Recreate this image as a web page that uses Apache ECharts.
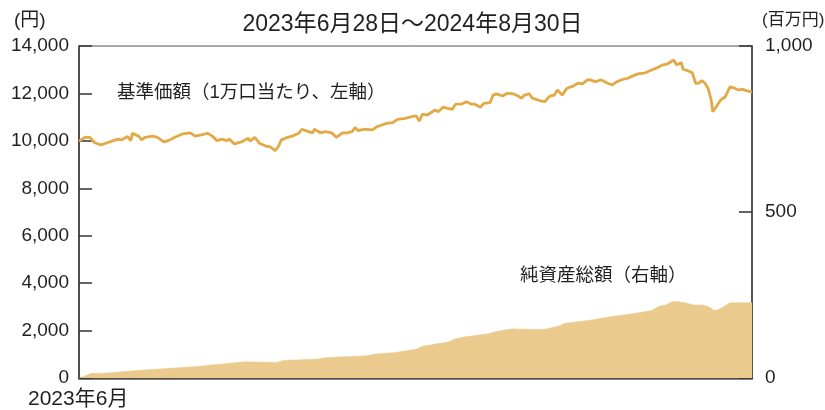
<!DOCTYPE html>
<html><head><meta charset="utf-8">
<script src="https://cdn.jsdelivr.net/npm/echarts@6/dist/echarts.min.js"></script>
<style>html,body{margin:0;padding:0;background:#fff}#c{width:825px;height:410px}</style>
</head><body><div id="c"></div>
<script>
const titleText = '2023年6月28日～2024年8月30日';
const leftUnit = '(円)';
const rightUnit = '(百万円)';
const xStartLabel = '2023年6月';
const navLabel = '基準価額（1万口当たり、左軸）';
const aumLabel = '純資産総額（右軸）';

const navDates = ['2023-06-28','2023-07-02','2023-07-05','2023-07-08','2023-07-12','2023-07-16','2023-07-20','2023-07-23','2023-07-25','2023-07-29','2023-07-31','2023-08-01','2023-08-05','2023-08-07','2023-08-09','2023-08-14','2023-08-17','2023-08-21','2023-08-24','2023-08-28','2023-09-02','2023-09-07','2023-09-10','2023-09-14','2023-09-18','2023-09-21','2023-09-24','2023-09-27','2023-09-30','2023-10-02','2023-10-05','2023-10-10','2023-10-14','2023-10-15','2023-10-18','2023-10-21','2023-10-25','2023-10-28','2023-10-31','2023-11-02','2023-11-04','2023-11-08','2023-11-11','2023-11-15','2023-11-17','2023-11-20','2023-11-24','2023-11-25','2023-11-29','2023-12-02','2023-12-06','2023-12-09','2023-12-13','2023-12-16','2023-12-19','2023-12-21','2023-12-23','2023-12-27','2024-01-01','2024-01-04','2024-01-07','2024-01-10','2024-01-14','2024-01-17','2024-01-22','2024-01-26','2024-01-29','2024-01-31','2024-02-02','2024-02-05','2024-02-10','2024-02-12','2024-02-15','2024-02-18','2024-02-21','2024-02-23','2024-02-27','2024-03-01','2024-03-04','2024-03-06','2024-03-10','2024-03-12','2024-03-16','2024-03-18','2024-03-20','2024-03-24','2024-03-27','2024-03-31','2024-04-03','2024-04-05','2024-04-07','2024-04-10','2024-04-12','2024-04-17','2024-04-20','2024-04-23','2024-04-26','2024-04-28','2024-05-01','2024-05-04','2024-05-08','2024-05-11','2024-05-14','2024-05-17','2024-05-19','2024-05-22','2024-05-26','2024-05-30','2024-05-31','2024-06-02','2024-06-05','2024-06-09','2024-06-12','2024-06-14','2024-06-18','2024-06-23','2024-06-27','2024-07-01','2024-07-04','2024-07-07','2024-07-11','2024-07-13','2024-07-14','2024-07-16','2024-07-17','2024-07-20','2024-07-23','2024-07-25','2024-07-27','2024-07-29','2024-07-31','2024-08-02','2024-08-04','2024-08-05','2024-08-07','2024-08-08','2024-08-10','2024-08-13','2024-08-15','2024-08-16','2024-08-19','2024-08-21','2024-08-24','2024-08-27','2024-08-30'];
const navValues = [9990,10150,10150,9920,9830,9920,10010,10070,10040,10180,10010,10320,10200,10040,10150,10200,10150,9960,10010,10150,10290,10340,10200,10250,10320,10200,10010,10070,10010,10070,9870,9970,10110,9990,10150,9900,9780,9750,9590,9750,10040,10150,10200,10320,10490,10420,10340,10490,10340,10390,10340,10150,10340,10340,10390,10560,10430,10490,10460,10600,10670,10740,10770,10910,10950,11020,11050,10840,11130,11090,11300,11230,11420,11370,11330,11550,11550,11650,11550,11550,11420,11580,11610,11930,11980,11890,12010,11980,11890,11800,11930,11980,11800,11690,11650,11890,11930,12150,11930,12220,12310,12430,12400,12570,12570,12500,12570,12430,12500,12360,12500,12600,12640,12710,12820,12870,12990,13100,13200,13240,13410,13200,13240,13300,13020,12960,12870,12430,12430,12540,12430,12220,11720,11230,11420,11370,11720,11860,12150,12280,12220,12150,12170,12110,12070];

const aumDates = ['2023-06-28','2023-07-02','2023-07-06','2023-07-13','2023-07-14','2023-08-08','2023-09-09','2023-10-12','2023-11-01','2023-11-05','2023-11-28','2023-12-01','2023-12-28','2024-01-03','2024-01-16','2024-01-29','2024-02-02','2024-02-19','2024-02-22','2024-02-29','2024-03-15','2024-03-19','2024-03-30','2024-04-05','2024-04-20','2024-04-29','2024-05-03','2024-05-20','2024-05-28','2024-06-14','2024-06-27','2024-07-02','2024-07-06','2024-07-10','2024-07-14','2024-07-18','2024-07-24','2024-07-30','2024-08-03','2024-08-06','2024-08-08','2024-08-12','2024-08-16','2024-08-30'];
const aumValues = [0,7,14,14,12,24,34,49,47,53,57,61,67,72,77,87,96,109,117,124,133,139,148,147,147,157,165,175,182,193,203,217,220,230,230,227,220,220,213,203,205,215,227,227];

const leftMin = 0, leftMax = 14000, leftStep = 2000;
const rightMin = 0, rightMax = 1000, rightStep = 500;

const FONT = '"Liberation Sans", "Noto Sans CJK JP", sans-serif';
const TXT = '#231f20';

const chart = echarts.init(document.getElementById('c'), null, {renderer: 'canvas'});
chart.setOption({
  animation: false,
  textStyle: {fontFamily: FONT},
  grid: {left: 79, right: 73, top: 46, bottom: 32, show: true, borderColor: '#555', borderWidth: 1, backgroundColor: 'transparent'},
  title: {text: titleText, left: 'center', top: 8, textStyle: {fontSize: 23, fontWeight: 'normal', color: TXT, fontFamily: FONT}},
  xAxis: {
    type: 'time', min: navDates[0], max: navDates[navDates.length - 1],
    axisLine: {show: true, lineStyle: {color: '#5a5048', width: 2.5}},
    axisTick: {show: false}, axisLabel: {show: false}, splitLine: {show: false}
  },
  yAxis: [
    {type: 'value', min: leftMin, max: leftMax, interval: leftStep, position: 'left',
     axisLine: {show: true, lineStyle: {color: '#333', width: 1.5}},
     axisTick: {show: true, inside: true, length: 13, lineStyle: {color: '#333', width: 1.5}},
     axisLabel: {margin: 10, fontSize: 19, color: TXT, fontFamily: FONT},
     splitLine: {show: false}},
    {type: 'value', min: rightMin, max: rightMax, interval: rightStep, position: 'right',
     axisLine: {show: true, lineStyle: {color: '#555', width: 2}},
     axisTick: {show: true, inside: true, length: 13, lineStyle: {color: '#333', width: 1.5}},
     axisLabel: {margin: 13, fontSize: 19, color: TXT, fontFamily: FONT},
     splitLine: {show: false}}
  ],
  series: [
    {type: 'line', name: aumLabel, yAxisIndex: 1, data: aumDates.map((d, i) => [d, aumValues[i]]),
     showSymbol: false, lineStyle: {width: 0.5, color: '#ebca8e'}, areaStyle: {color: '#ebca8e', opacity: 1}, z: 1},
    {type: 'line', name: navLabel, yAxisIndex: 0, data: navDates.map((d, i) => [d, navValues[i]]),
     showSymbol: false, lineStyle: {width: 2.8, color: '#e3a945'}, z: 3}
  ],
  graphic: [
    {type: 'text', left: 14, top: 11, style: {text: leftUnit, fill: TXT, font: '19px ' + FONT}},
    {type: 'text', left: 762, top: 12, style: {text: rightUnit, fill: TXT, font: '17px ' + FONT}},
    {type: 'text', left: 28, top: 389, style: {text: xStartLabel, fill: TXT, font: '21px ' + FONT}},
    {type: 'text', left: 117, top: 84, style: {text: navLabel, fill: TXT, font: '18.5px ' + FONT}},
    {type: 'text', left: 520, top: 267, style: {text: aumLabel, fill: TXT, font: '18.5px ' + FONT}}
  ]
});
</script></body></html>
